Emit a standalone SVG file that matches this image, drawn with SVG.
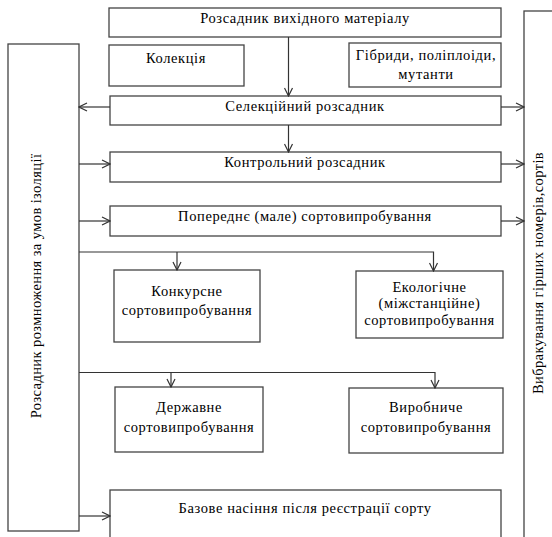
<svg xmlns="http://www.w3.org/2000/svg" width="552" height="537" viewBox="0 0 552 537" font-family="'Liberation Serif', 'DejaVu Serif', serif">
  <defs>
    <marker id="arr" viewBox="0 0 10 10" refX="9" refY="5" markerWidth="10" markerHeight="10" markerUnits="userSpaceOnUse" orient="auto">
      <path d="M1,1 L9,5 L1,9" fill="none" stroke="#333" stroke-width="1.2"/>
    </marker>
  </defs>
  <style>
    .box { fill: #fff; stroke: #444; stroke-width: 1.3; }
    .ln { fill: none; stroke: #333; stroke-width: 1.2; }
    text { font-family: 'Liberation Serif', 'DejaVu Serif', serif; }
    .t { font-size: 14.5px; letter-spacing: 0.6px; fill: #000; text-anchor: middle; }
    .v { font-size: 14.5px; letter-spacing: 0.4px; fill: #000; text-anchor: middle; }
  </style>
  <rect width="552" height="537" fill="#fff"/>

  <!-- side columns -->
  <g id="isolation">
    <rect class="box" x="8" y="44" width="71" height="487"/>
    <text class="v" transform="translate(41,286) rotate(-90)">Розсадник розмноження за умов ізоляції</text>
  </g>
  <g id="culling">
    <rect class="box" x="524" y="11" width="40" height="540"/>
    <text class="v" transform="translate(543,273) rotate(-90)">Вибракування гірших номерів,сортів</text>
  </g>

  <!-- main chain -->
  <g id="source">
    <rect class="box" x="109" y="8" width="392" height="29"/>
    <text class="t" x="305" y="23">Розсадник вихідного матеріалу</text>
  </g>
  <g id="collection">
    <rect class="box" x="109" y="45" width="135" height="41"/>
    <text class="t" x="176" y="63">Колекція</text>
  </g>
  <g id="hybrids">
    <rect class="box" x="349" y="43" width="152" height="44"/>
    <text class="t" x="426" y="60">Гібриди, поліплоіди,</text>
    <text class="t" x="426" y="79">мутанти</text>
  </g>
  <g id="selection">
    <rect class="box" x="110" y="96" width="391" height="29"/>
    <text class="t" x="305" y="111">Селекційний розсадник</text>
  </g>
  <g id="control">
    <rect class="box" x="110" y="152" width="391" height="30"/>
    <text class="t" x="305" y="167">Контрольний розсадник</text>
  </g>
  <g id="preliminary">
    <rect class="box" x="110" y="206" width="391" height="30"/>
    <text class="t" x="305" y="221">Попереднє (мале) сортовипробування</text>
  </g>
  <g id="competitive">
    <rect class="box" x="114" y="270" width="146" height="72"/>
    <text class="t" x="187" y="296">Конкурсне</text>
    <text class="t" x="187" y="315">сортовипробування</text>
  </g>
  <g id="ecological">
    <rect class="box" x="356" y="271" width="147" height="67"/>
    <text class="t" x="429.5" y="292">Екологічне</text>
    <text class="t" x="429.5" y="308">(міжстанційне)</text>
    <text class="t" x="429.5" y="325">сортовипробування</text>
  </g>
  <g id="state">
    <rect class="box" x="115" y="387" width="148" height="65"/>
    <text class="t" x="189" y="412">Державне</text>
    <text class="t" x="189" y="432">сортовипробування</text>
  </g>
  <g id="production">
    <rect class="box" x="349" y="388" width="154" height="65"/>
    <text class="t" x="426" y="412">Виробниче</text>
    <text class="t" x="426" y="432">сортовипробування</text>
  </g>
  <g id="base-seed">
    <rect class="box" x="110" y="490" width="391" height="60"/>
    <text class="t" x="305" y="513">Базове насіння після реєстрації сорту</text>
  </g>

  <!-- connectors -->
  <g id="connectors">
    <line class="ln" x1="288.5" y1="37" x2="288.5" y2="96" marker-end="url(#arr)"/>
    <line class="ln" x1="288.5" y1="125" x2="288.5" y2="152" marker-end="url(#arr)"/>
    <line class="ln" x1="110" y1="107" x2="79" y2="107" marker-end="url(#arr)"/>
    <line class="ln" x1="501" y1="107" x2="524" y2="107" marker-end="url(#arr)"/>
    <line class="ln" x1="79" y1="164" x2="110" y2="164" marker-end="url(#arr)"/>
    <line class="ln" x1="501" y1="164" x2="524" y2="164" marker-end="url(#arr)"/>
    <line class="ln" x1="79" y1="221" x2="110" y2="221" marker-end="url(#arr)"/>
    <line class="ln" x1="501" y1="221" x2="524" y2="221" marker-end="url(#arr)"/>
    <polyline class="ln" points="79,252 433.5,252 433.5,271" marker-end="url(#arr)"/>
    <line class="ln" x1="177" y1="252" x2="177" y2="270" marker-end="url(#arr)"/>
    <polyline class="ln" points="79,372.5 435,372.5 435,388" marker-end="url(#arr)"/>
    <line class="ln" x1="171" y1="372.5" x2="171" y2="387" marker-end="url(#arr)"/>
    <line class="ln" x1="79" y1="516" x2="110" y2="516" marker-end="url(#arr)"/>
  </g>
</svg>
